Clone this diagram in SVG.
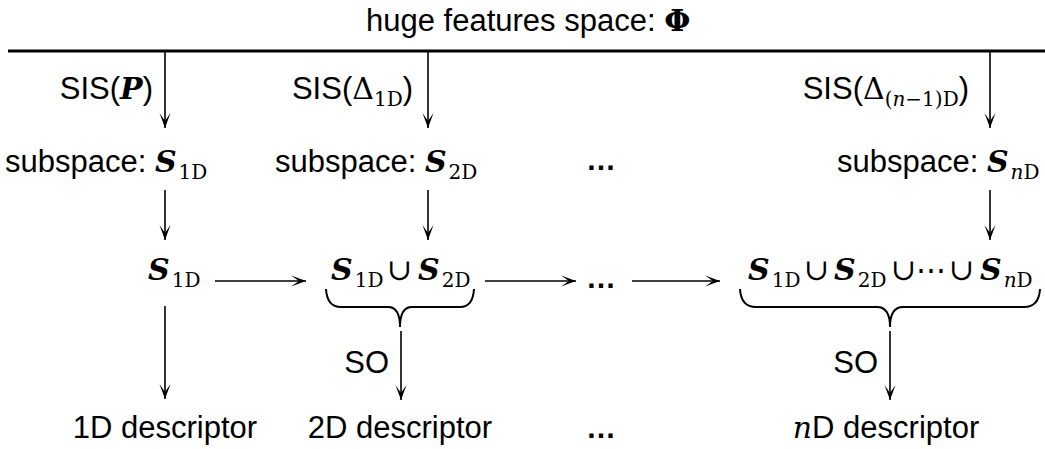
<svg xmlns="http://www.w3.org/2000/svg" width="1045" height="449" viewBox="0 0 1045 449">
  <defs>
    <marker id="arr" markerUnits="userSpaceOnUse" markerWidth="20" markerHeight="14" viewBox="-16 -7 18 14" refX="0" refY="0" orient="auto">
      <path d="M0,0 L-15,-5.5 L-7,0 L-15,5.5 Z" fill="#000"/>
    </marker>
    <style>
      .t { font-family: "Liberation Sans", Arial, sans-serif; font-size: 31px; fill: #000; }
      .m { font-family: "DejaVu Serif", "Liberation Serif", serif; font-size: 30px; fill: #000; }
      .bi { font-weight: bold; font-style: italic; }
      .it { font-style: italic; }
      .sub { font-size: 20px; }
      .dots { font-family: "Liberation Sans", Arial, sans-serif; font-size: 30px; font-weight: bold; }
      .c { stroke: #000; stroke-width: 1.6; fill: none; marker-end: url(#arr); }
      .brace { stroke: #000; stroke-width: 2; fill: none; }
    </style>
  </defs>
  <rect width="1045" height="449" fill="#fff"/>

  <!-- top: feature space -->
  <g id="feature-space">
    <text class="t" x="366" y="31" font-size="30">huge features space: <tspan class="m" font-weight="bold" font-size="27">Φ</tspan></text>
    <line x1="8" y1="51" x2="1045" y2="51" stroke="#000" stroke-width="3"/>
  </g>

  <!-- SIS labels -->
  <g id="sis-1">
    <text class="t" x="153" y="99" text-anchor="end">SIS(<tspan class="m bi">P</tspan>)</text>
  </g>
  <g id="sis-2">
    <text class="t" x="413" y="99" text-anchor="end">SIS(<tspan class="m">Δ</tspan><tspan class="m sub" dy="7">1D</tspan><tspan dy="-7">)</tspan></text>
  </g>
  <g id="sis-n">
    <text class="t" x="969" y="99" text-anchor="end">SIS(<tspan class="m">Δ</tspan><tspan class="m sub" dy="7">(<tspan class="it">n</tspan>−1)D</tspan><tspan dy="-7">)</tspan></text>
  </g>

  <!-- subspaces -->
  <g id="subspace-1">
    <text class="t" x="5" y="172">subspace: <tspan class="m bi">S</tspan><tspan class="m sub" dx="2" dy="7">1D</tspan></text>
  </g>
  <g id="subspace-2">
    <text class="t" x="275" y="172">subspace: <tspan class="m bi">S</tspan><tspan class="m sub" dx="2" dy="7">2D</tspan></text>
  </g>
  <g id="dots-1"><text class="dots" x="601" y="170" text-anchor="middle">…</text></g>
  <g id="subspace-n">
    <text class="t" x="837" y="172">subspace: <tspan class="m bi">S</tspan><tspan class="m sub" dx="2" dy="7"><tspan class="it">n</tspan>D</tspan></text>
  </g>

  <!-- unions -->
  <g id="union-1">
    <text class="m" y="280"><tspan class="bi" x="148">S</tspan><tspan class="sub" dx="2" dy="7">1D</tspan></text>
  </g>
  <g id="union-2">
    <text class="m" y="280"><tspan class="bi" x="331">S</tspan><tspan class="sub" dx="2" dy="7">1D</tspan><tspan x="387" y="280">∪</tspan><tspan class="bi" x="418">S</tspan><tspan class="sub" dx="2" dy="7">2D</tspan></text>
    <path class="brace" d="M326,289 Q327,307 341,307 L388,307 Q400,307 400,327 Q400,307 412,307 L460,307 Q473,307 474,289"/>
  </g>
  <g id="dots-2"><text class="dots" x="601" y="288" text-anchor="middle">…</text></g>
  <g id="union-n">
    <text class="m" y="280"><tspan class="bi" x="748">S</tspan><tspan class="sub" dx="2" dy="7">1D</tspan><tspan x="804" y="280">∪</tspan><tspan class="bi" x="834">S</tspan><tspan class="sub" dx="2" dy="7">2D</tspan><tspan x="891" y="280">∪</tspan><tspan x="916" y="280">⋯</tspan><tspan x="949" y="280">∪</tspan><tspan class="bi" x="980">S</tspan><tspan class="sub" dx="2" dy="7"><tspan class="it">n</tspan>D</tspan></text>
    <path class="brace" d="M740,289 Q741,307 756,307 L877,307 Q890,307 890,327 Q890,307 903,307 L1024,307 Q1039,307 1040,289"/>
  </g>

  <!-- SO labels -->
  <g id="so-2"><text class="t" x="389" y="373" text-anchor="end">SO</text></g>
  <g id="so-n"><text class="t" x="878" y="373" text-anchor="end">SO</text></g>

  <!-- descriptors -->
  <g id="desc-1"><text class="t" x="165" y="438" text-anchor="middle">1D descriptor</text></g>
  <g id="desc-2"><text class="t" x="400" y="438" text-anchor="middle">2D descriptor</text></g>
  <g id="dots-3"><text class="dots" x="601" y="438" text-anchor="middle">…</text></g>
  <g id="desc-n"><text class="t" x="886" y="438" text-anchor="middle"><tspan class="m it">n</tspan>D descriptor</text></g>

  <!-- connectors -->
  <g id="connectors">
    <line class="c" x1="165" y1="51" x2="165" y2="128"/>
    <line class="c" x1="428" y1="51" x2="428" y2="128"/>
    <line class="c" x1="990" y1="51" x2="990" y2="128"/>
    <line class="c" x1="165" y1="190" x2="165" y2="240"/>
    <line class="c" x1="428" y1="190" x2="428" y2="240"/>
    <line class="c" x1="990" y1="190" x2="990" y2="240"/>
    <line class="c" x1="215" y1="281" x2="306" y2="281"/>
    <line class="c" x1="485" y1="281" x2="576" y2="281"/>
    <line class="c" x1="632" y1="281" x2="720" y2="281"/>
    <line class="c" x1="165" y1="306" x2="165" y2="399"/>
    <line class="c" x1="401" y1="331" x2="401" y2="400"/>
    <line class="c" x1="890" y1="331" x2="890" y2="400"/>
  </g>
</svg>
